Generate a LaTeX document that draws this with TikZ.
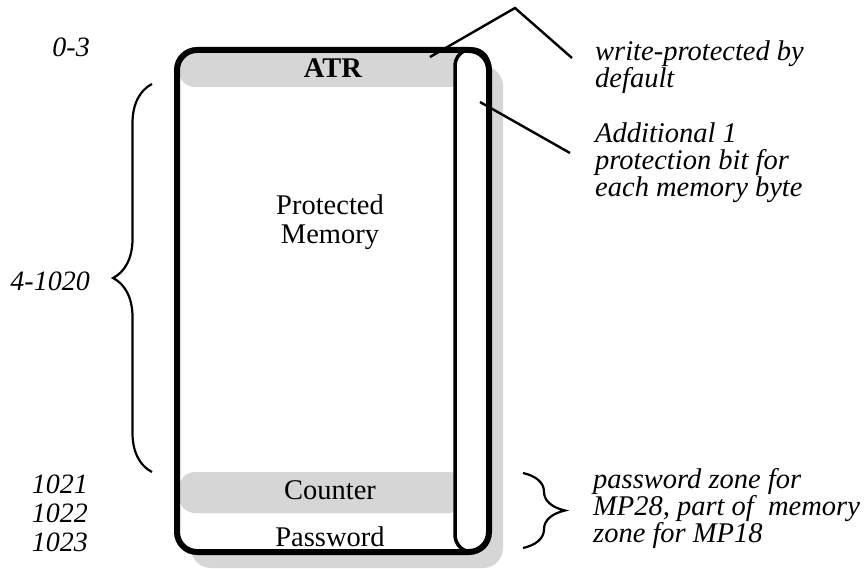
\documentclass[tikz,border=0pt]{standalone}
\usepackage{fontspec}
\setmainfont{Liberation Serif}
\usetikzlibrary{decorations.pathreplacing}
\definecolor{zonegray}{gray}{0.84}
\begin{document}
\begin{tikzpicture}[x=1pt,y=-1pt,
  note/.style={font=\fontsize{28.5}{27}\selectfont\itshape, inner sep=0pt, align=left, anchor=base west},
  num/.style={font=\fontsize{28}{27}\selectfont\itshape, inner sep=0pt, anchor=base east},
  zonetext/.style={font=\fontsize{28.5}{29}\selectfont, inner sep=0pt, align=center},
  leader/.style={line width=2.4pt},
  curly/.style={line width=2.2pt, decorate, decoration={brace, amplitude=#1}},
]
\useasboundingbox (0,0) rectangle (864,569);

% drop shadow of the memory block
\fill[zonegray, rounded corners=20] (191,66) rectangle (503,568);
\fill[white, rounded corners=20] (177,50) rectangle (489,552);

% shaded zones
\fill[zonegray, rounded corners=16] (179,50) rectangle (465,87);
\fill[zonegray, rounded corners=16] (179,472) rectangle (465,513);

% protection bit column
\draw[line width=3.5pt, fill=white, rounded corners=17] (455,49) rectangle (489,552);

% memory block outline
\draw[line width=6pt, rounded corners=20] (177,50) rectangle (489,552);

% zone labels
\node[zonetext, font=\fontsize{28.5}{29}\selectfont\bfseries] (atr) at (333,68) {ATR};
\node[zonetext] (prot) at (330,222) {Protected\\Memory};
\node[zonetext] (counter) at (330,490) {Counter};
\node[zonetext] (password) at (330,537) {Password};

% addresses
\node[num] (a03) at (90,57) {0-3};
\node[num] (a4) at (90,290) {4-1020};
\node[num] (a1021) at (88,493) {1021};
\node[num] (a1022) at (88,522) {1022};
\node[num] (a1023) at (88,551) {1023};

% braces
\coordinate (lbB) at (152,472);
\coordinate (lbT) at (152,84);
\draw[curly=39pt] (lbB) -- (lbT);
\coordinate (rbT) at (523,473);
\coordinate (rbB) at (523,548);
\draw[curly=42pt] (rbT) -- (rbB);

% notes (anchored at the baseline of their last line)
\node[note] (wp) at (595,88) {write-protected by\\default};
\node[note] (add) at (595,197) {Additional 1\\protection bit for\\each memory byte};
\node[note] (pw) at (593,542) {password zone for\\MP28, part of\ \ memory\\zone for MP18};

% leader lines
\coordinate (atrpt) at (430,57);
\coordinate (wpbend) at (515,8);
\coordinate (wpend) at (572,58);
\draw[leader] (atrpt) -- (wpbend) -- (wpend);
\coordinate (bitpt) at (480,102);
\coordinate (addend) at (570,153);
\draw[leader] (bitpt) -- (addend);
\end{tikzpicture}
\end{document}
